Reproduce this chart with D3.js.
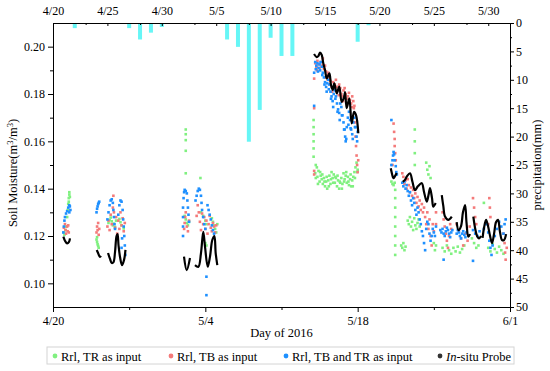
<!DOCTYPE html>
<html>
<head>
<meta charset="utf-8">
<script src="https://cdn.jsdelivr.net/npm/d3@7"></script>
<style>
body { margin: 0; background: #fff; }
</style>
</head>
<body>
<div id="chart"></div>
<script>
var serif = "'Liberation Serif', 'Times New Roman', serif";

// day 0 = 4/20/2016
var bottomTickDays = [0, 14, 28, 42];
var bottomTickLabels = ["4/20", "5/4", "5/18", "6/1"];
var topTickDays = [0, 5, 10, 15, 20, 25, 30, 35, 40];
var topTickLabels = ["4/20", "4/25", "4/30", "5/5", "5/10", "5/15", "5/20", "5/25", "5/30"];

// daily precipitation (mm)
var rainDays = [2, 7, 8, 9, 10, 16, 17, 18, 19, 20, 21, 22, 23, 28, 29, 39];
var rainMM = [0.9, 0.9, 2.9, 1.7, 0.7, 2.9, 4.2, 20.9, 15.3, 2.6, 5.8, 5.8, 0.2, 3.3, 0.4, 0.1];

// in-situ probe (null = gap)
var probe = [
  [0.95,0.1197],[1.10,0.1180],[1.29,0.1169],[1.47,0.1175],[1.56,0.1190], null,
  [4.02,0.1141],[4.14,0.1128],[4.23,0.1118],[4.32,0.1112],[4.41,0.1116], null,
  [5.06,0.1128],[5.24,0.1103],[5.40,0.1086],[5.56,0.1090],[5.70,0.1132],[5.84,0.1200],[5.93,0.1208],[6.02,0.1162],[6.16,0.1111],[6.34,0.1077],[6.53,0.1099],[6.66,0.1141], null,
  [12.04,0.1113],[12.29,0.1056],[12.59,0.1107], null,
  [13.05,0.1077],[13.36,0.1070],[13.60,0.1128],[13.81,0.1218],[13.97,0.1155],[14.22,0.1070],[14.43,0.1113],[14.64,0.1183],[14.83,0.1200],[14.95,0.1128],[15.10,0.1077], null,
  [23.99,0.1969],[24.24,0.1956],[24.38,0.1960],[24.54,0.1975],[24.70,0.1965],[24.84,0.1930],[25.00,0.1901],[25.16,0.1866],[25.40,0.1887],[25.55,0.1838],[25.71,0.1817],[25.85,0.1845],[26.08,0.1803],[26.31,0.1831],[26.53,0.1767],[26.75,0.1787],[26.84,0.1808],[26.99,0.1740],[27.23,0.1782],[27.45,0.1676],[27.67,0.1725],[27.85,0.1711],[28.06,0.1634], null,
  [31.04,0.1486],[31.16,0.1462],[31.28,0.1444],[31.43,0.1453],[31.59,0.1466], null,
  [32.14,0.1429],[32.35,0.1437],[32.54,0.1453],[32.81,0.1465],[33.04,0.1428],[33.27,0.1394],[33.55,0.1411],[33.89,0.1423],[34.10,0.1386],[34.35,0.1345],[34.51,0.1373],[34.65,0.1402],[34.83,0.1361],[34.95,0.1324],[35.17,0.1339], null,
  [35.73,0.1373],[35.87,0.1327],[36.03,0.1282],[36.33,0.1268],[36.65,0.1282], null,
  [37.10,0.1259],[37.27,0.1225],[37.50,0.1242],[37.68,0.1301],[37.87,0.1331],[38.00,0.1259],[38.17,0.1197],[38.33,0.1208], null,
  [38.63,0.1282],[38.79,0.1234],[38.97,0.1200],[39.15,0.1190],[39.34,0.1200], null,
  [39.48,0.1192],[39.61,0.1234],[39.80,0.1268],[39.98,0.1242],[40.17,0.1200],[40.35,0.1170],[40.53,0.1208],[40.72,0.1259],[40.90,0.1268],[41.08,0.1217],[41.27,0.1183],[41.45,0.1183],[41.64,0.1208]
];

// Rrl, TR as input
var trInput = [
  [1.0,0.1215],[1.05,0.1205],[1.15,0.1225],[1.2,0.124],[1.3,0.128],[1.35,0.131],[1.4,0.1335],[1.45,0.136],[1.5,0.1385],[1.5,0.1375],[1.55,0.1365],[1.45,0.1345],
  [4.0,0.1185],[4.05,0.1175],[4.1,0.1165],[4.15,0.1158],[4.2,0.1150],[4.05,0.1195],
  [5.1,0.1255],[5.2,0.1268],[5.3,0.1278],[5.4,0.1262],[5.5,0.1245],[5.6,0.1252],[5.7,0.1238],[5.8,0.1265],[6.1,0.1272],[6.2,0.1258],[6.3,0.1245],[6.5,0.1232],
  [12.2,0.1650],[12.2,0.1630],[12.2,0.1605],[12.2,0.1560],[12.2,0.1465],[12.1,0.1285],[12.2,0.1270],[12.3,0.1255],[12.4,0.1245],[12.5,0.1260],
  [13.55,0.1445],[13.6,0.1300],[13.8,0.1285],[14.0,0.1265],[14.1,0.1250],[14.0,0.1170],[14.1,0.1160],[14.6,0.1275],[14.7,0.1260],[14.8,0.1245],[14.9,0.1230],[15.0,0.1215],[15.1,0.1250],
  [23.95,0.1690],[23.95,0.1660],[23.95,0.1630],[23.95,0.1600],[23.95,0.1570],[23.95,0.1535],
  [24.1,0.1465],[24.15,0.1445],[24.25,0.1490],[24.3,0.1450],[24.4,0.1475],[24.5,0.1430],[24.6,0.1455],[24.7,0.1440],[24.8,0.1420],[24.9,0.1445],[25.0,0.1410],[25.1,0.1430],[25.2,0.1400],[25.3,0.1435],[25.4,0.1455],[25.5,0.1420],[25.6,0.1470],[25.7,0.1445],[25.8,0.1460],[25.9,0.1425],[26.0,0.1445],[26.1,0.1410],[26.2,0.1435],[26.3,0.1400],[26.4,0.1425],[26.5,0.1445],[26.6,0.1420],[26.7,0.1465],[26.8,0.1440],[26.9,0.1455],[27.0,0.1425],[27.1,0.1450],[27.2,0.1415],[27.3,0.1440],[27.4,0.1410],[27.5,0.1435],[27.6,0.1450],[27.7,0.1470],[27.8,0.1490],[27.9,0.1510],[28.0,0.1480],
  [24.15,0.1500],[24.35,0.1420],[24.55,0.1470],[24.75,0.1460],[24.95,0.1430],[25.15,0.1450],[25.35,0.1410],[25.55,0.1440],[25.75,0.1425],[25.95,0.1450],[26.15,0.1455],[26.35,0.1430],[26.55,0.1400],[26.75,0.1430],[26.95,0.1470],[27.15,0.1430],[27.35,0.1460],[27.55,0.1410],[27.75,0.1445],[27.95,0.1470],
  [31.1,0.1430],[31.2,0.1420],[31.3,0.1415],[31.4,0.1425],[31.45,0.1395],[31.45,0.1360],[31.45,0.1320],[31.45,0.1280],[31.45,0.1240],[31.45,0.1200],[31.45,0.1160],[31.45,0.1120],
  [32.0,0.1160],[32.1,0.1150],[32.2,0.1170],[32.3,0.1140],[32.4,0.1155],
  [32.6,0.1265],[32.7,0.1250],[32.8,0.1280],[32.9,0.1240],[33.0,0.1260],[33.1,0.1225],[33.2,0.1275],[33.3,0.1245],[33.4,0.1230],[33.5,0.1255],[33.6,0.1270],[33.7,0.1240],
  [33.25,0.1650],[33.25,0.1600],[33.25,0.1550],[33.25,0.1500],
  [34.3,0.1510],[34.4,0.1480],[34.5,0.1460],[34.6,0.1495],[34.7,0.1445],
  [35.0,0.1170],[35.1,0.1140],[35.2,0.1160],
  [35.8,0.1150],[36.0,0.1135],[36.2,0.1160],[36.4,0.1140],[36.6,0.1125],[36.8,0.1150],[37.0,0.1135],[37.2,0.1155],[37.4,0.1130],[37.6,0.1145],[37.8,0.1160],
  [38.5,0.1190],[38.7,0.1170],[38.9,0.1150],[39.1,0.1160],
  [39.6,0.1340],
  [40.0,0.1150],[40.2,0.1135],[40.4,0.1165],[40.6,0.1145],[40.8,0.1130],[41.0,0.1155],[41.2,0.1140],[41.4,0.1125]
];

// Rrl, TB as input
var tbInput = [
  [1.0,0.1235],[1.1,0.1250],[1.15,0.1225],[1.2,0.1210],[1.3,0.1240],[1.35,0.1220],[1.4,0.1245],[1.45,0.1215],
  [4.0,0.1215],[4.05,0.1240],[4.1,0.1225],[4.15,0.1255],[4.2,0.1205],[4.25,0.1230],
  [5.0,0.1240],[5.1,0.1265],[5.2,0.1225],[5.3,0.1290],[5.4,0.1250],[5.5,0.1320],[5.55,0.1370],[5.6,0.1300],[5.7,0.1235],[5.8,0.1280],[5.9,0.1210],[6.0,0.1265],[6.1,0.1230],[6.2,0.1300],[6.3,0.1245],[6.4,0.1275],[6.5,0.1220],[6.6,0.1255],
  [12.05,0.1230],[12.1,0.1255],[12.15,0.1280],[12.2,0.1300],[12.3,0.1240],[12.4,0.1220],[12.5,0.1265],
  [13.2,0.1285],[13.3,0.1330],[13.4,0.1300],[13.5,0.1260],[13.6,0.1225],[13.7,0.1295],[13.8,0.1250],[13.9,0.1280],[14.0,0.1230],[14.1,0.1265],[14.2,0.1210],[14.3,0.1250],[14.4,0.1285],[14.5,0.1235],[14.6,0.1220],[14.7,0.1255],[14.8,0.1240],[14.9,0.1215],[15.0,0.1245],
  [24.0,0.1865],[24.0,0.1740],[24.0,0.1475],[24.0,0.1460],
  [24.1,0.1930],[24.2,0.1915],[24.3,0.1940],[24.4,0.1925],[24.6,0.1935],[24.8,0.1950],[25.0,0.1920],[25.1,0.1895],[25.2,0.1880],[25.3,0.1890],[25.4,0.1870],[25.5,0.1855],[25.6,0.1830],[25.75,0.1850],[25.9,0.1840],[26.0,0.1860],[26.1,0.1830],[26.2,0.1815],[26.3,0.1840],[26.4,0.1825],[26.5,0.1800],[26.6,0.1790],[26.7,0.1815],[26.8,0.1825],[26.9,0.1800],[27.0,0.1780],[27.1,0.1790],[27.2,0.1805],[27.3,0.1775],[27.4,0.1760],[27.5,0.1790],[27.6,0.1770],[27.7,0.1750],[27.75,0.1680],[27.8,0.1620],[27.85,0.1580],[27.9,0.1540],[27.95,0.1500],[28.0,0.1470],[28.05,0.1520],
  [24.25,0.1900],[24.5,0.1910],[24.7,0.1920],[24.9,0.1905],[25.05,0.1870],[25.25,0.1860],[25.45,0.1840],[25.65,0.1810],[25.85,0.1820],[26.05,0.1830],[26.25,0.1795],[26.45,0.1800],[26.65,0.1770],[26.85,0.1790],[27.05,0.1760],[27.25,0.1770],[27.45,0.1745],[27.65,0.1740],
  [31.2,0.1500],[31.3,0.1675],[31.35,0.1640],[31.4,0.1610],[31.4,0.1580],[31.45,0.1550],[31.5,0.1520],
  [32.1,0.1465],[32.2,0.1450],[32.3,0.1420],[32.4,0.1435],[32.5,0.1400],[32.6,0.1440],[32.7,0.1415],[32.8,0.1385],[32.9,0.1405],[33.0,0.1370],[33.1,0.1395],[33.2,0.1360],[33.3,0.1380],[33.4,0.1340],[33.5,0.1365],[33.6,0.1325],[33.7,0.1350],[33.8,0.1310],[33.9,0.1335],[34.0,0.1300],[34.1,0.1320],[34.2,0.1280],[34.3,0.1250],[34.4,0.1300],[34.5,0.1230],[34.6,0.1270],[34.7,0.1200],[34.8,0.1160],[34.9,0.1250],[35.0,0.1220],[35.2,0.1300],[35.2,0.1250],
  [35.8,0.1300],[35.9,0.1270],[36.0,0.1240],[36.1,0.1210],[36.2,0.1180],[36.3,0.1150],[36.4,0.1200],[36.5,0.1250],[36.6,0.1230],
  [37.1,0.1250],[37.3,0.1220],[37.5,0.1190],[37.7,0.1160],[37.9,0.1210],[38.1,0.1180],[38.3,0.1240],
  [38.6,0.1360],[38.7,0.1320],[38.8,0.1280],[38.9,0.1250],
  [40.0,0.1250],[40.1,0.1360],[40.15,0.1320],[40.2,0.1280],
  [41.4,0.1210],[41.5,0.1170],[41.55,0.1130],[41.6,0.1100],[41.7,0.1150]
];

// Rrl, TB and TR as input
var tbtrInput = [
  [0.95,0.1215],[1.0,0.1240],[1.05,0.1265],[1.1,0.1280],[1.2,0.1295],[1.3,0.1305],[1.4,0.1320],[1.5,0.1330],[1.55,0.1325],[1.6,0.1310],[1.5,0.1300],
  [4.0,0.1300],[4.05,0.1315],[4.1,0.1325],[4.15,0.1335],[4.2,0.1340],[4.25,0.1345],
  [5.0,0.1270],[5.1,0.1300],[5.2,0.1330],[5.3,0.1350],[5.4,0.1355],[5.5,0.1340],[5.55,0.1310],[5.6,0.1280],[5.65,0.1250],[5.7,0.1230],[6.0,0.1290],[6.1,0.1330],[6.2,0.1350],[6.3,0.1345],[6.4,0.1310],[6.45,0.1270],[6.5,0.1240],[6.55,0.1200],[6.6,0.1160],[6.65,0.1120],[6.3,0.1150],[6.35,0.1190],
  [11.95,0.1200],[11.95,0.1240],[11.95,0.1280],[11.95,0.1320],[12.0,0.1360],[12.05,0.1385],[12.1,0.1395],[12.2,0.1390],[12.3,0.1380],[12.35,0.1350],[12.4,0.1320],[12.45,0.1290],[12.5,0.1260],
  [13.1,0.1350],[13.2,0.1370],[13.3,0.1390],[13.4,0.1400],[13.5,0.1395],[13.6,0.1370],[13.65,0.1340],[13.7,0.1310],[13.8,0.1280],[13.9,0.1250],[14.0,0.1230],
  [14.2,0.1330],[14.3,0.1310],[14.4,0.1290],[14.5,0.1270],[14.6,0.1245],[14.7,0.1225],[14.8,0.1210],[14.1,0.1028],[14.1,0.0950],
  [24.0,0.1890],[24.0,0.1750],
  [24.1,0.1935],[24.2,0.1920],[24.3,0.1930],[24.4,0.1910],[24.5,0.1925],[24.6,0.1935],[24.7,0.1915],[24.8,0.1890],[24.9,0.1870],[25.0,0.1850],[25.1,0.1830],[25.2,0.1845],[25.3,0.1860],[25.4,0.1840],[25.5,0.1810],[25.6,0.1790],[25.7,0.1770],[25.8,0.1800],[25.9,0.1815],[26.0,0.1790],[26.1,0.1760],[26.2,0.1735],[26.3,0.1720],[26.4,0.1760],[26.5,0.1745],[26.6,0.1710],[26.7,0.1680],[26.8,0.1650],[26.85,0.1620],[26.9,0.1600],[27.0,0.1660],[27.1,0.1700],[27.2,0.1725],[27.3,0.1690],[27.4,0.1650],[27.5,0.1630],[27.6,0.1680],[27.7,0.1700],[27.8,0.1660],[27.9,0.1620],[28.0,0.1640],
  [24.15,0.1905],[24.35,0.1895],[24.55,0.1900],[24.75,0.1880],[24.95,0.1840],[25.15,0.1810],[25.35,0.1820],[25.55,0.1780],[25.75,0.1745],[25.95,0.1780],[26.15,0.1725],[26.35,0.1690],[26.55,0.1710],[26.75,0.1650],[26.95,0.1610],[27.15,0.1670],[27.35,0.1655],[27.55,0.1610],[27.75,0.1660],[27.95,0.1600],
  [31.1,0.1690],[31.1,0.1500],[31.2,0.1520],[31.25,0.1540],[31.3,0.1555],[31.35,0.1545],[31.4,0.1520],[31.5,0.1495],[31.55,0.1470],[31.6,0.1460],
  [32.1,0.1425],[32.2,0.1410],[32.3,0.1430],[32.4,0.1400],[32.5,0.1415],[32.6,0.1390],[32.7,0.1370],[32.8,0.1385],[32.9,0.1350],[33.0,0.1330],[33.1,0.1360],[33.2,0.1340],[33.3,0.1310],[33.4,0.1290],[33.5,0.1320],[33.6,0.1300],[33.7,0.1270],[33.8,0.1250],[33.9,0.1220],[34.0,0.1200],[34.1,0.1170],[34.2,0.1140],[34.3,0.1230],[34.4,0.1260],[34.5,0.1250],[34.6,0.1210],[34.7,0.1180],[34.8,0.1200],[34.9,0.1230],[35.0,0.1215],[35.1,0.1200],[35.2,0.1240],
  [35.6,0.1225],[35.7,0.1215],[35.8,0.1230],[35.9,0.1210],[36.0,0.1200],[36.1,0.1220],[36.2,0.1235],[36.3,0.1225],[36.4,0.1210],[36.5,0.1195],[36.6,0.1215],[36.7,0.1225],
  [37.1,0.1210],[37.2,0.1225],[37.3,0.1215],[37.4,0.1200],[37.5,0.1190],[37.6,0.1210],[37.7,0.1220],[37.8,0.1205],[37.9,0.1195],[38.0,0.1215],
  [38.6,0.1225],[38.8,0.1210],[39.0,0.1200],[39.2,0.1220],
  [39.6,0.1230],[39.8,0.1250],[40.0,0.1215],[40.1,0.1180],[40.2,0.1150],[40.3,0.1120],[40.4,0.1160],[40.6,0.1200],[40.8,0.1230],[41.0,0.1260],[41.2,0.1240],[41.4,0.1210],[41.5,0.1250],[41.6,0.1270],
  [35.9,0.1100],[38.6,0.1095]
];

var seriesNames = ["Rrl, TR as input", "Rrl, TB as input", "Rrl, TB and TR as input", "In-situ Probe"];
var seriesColors = ["#80f080", "#f47a7a", "#1e90ff", "#000000"];

var margin = { top: 23, right: 40, bottom: 64, left: 53 },
    width = 550 - margin.left - margin.right,
    height = 371 - margin.top - margin.bottom;

var svg = d3.select("#chart")
    .append("svg")
    .attr("width", 550)
    .attr("height", 371)
    .style("font-family", serif);

var g = svg.append("g")
    .attr("transform", "translate(" + margin.left + "," + margin.top + ")");

var x = d3.scaleLinear().domain([0, 42]).range([0, width]);
var y = d3.scaleLinear().domain([0.09, 0.21]).range([height, 0]);
var yRain = d3.scaleLinear().domain([0, 50]).range([0, height]);

g.append("clipPath").attr("id", "clip")
    .append("rect").attr("width", width).attr("height", height);

var plot = g.append("g").attr("clip-path", "url(#clip)");

// precipitation bars hanging from the top
plot.selectAll(".rain")
    .data(rainDays)
    .enter()
    .append("rect")
    .attr("x", function (d) { return x(d) - 2; })
    .attr("y", 0)
    .attr("width", 4)
    .attr("height", function (d, i) { return yRain(rainMM[i]); })
    .attr("fill", "#66f6f6");

// scatter series, small square dots
[trInput, tbInput, tbtrInput].forEach(function (data, k) {
    plot.append("g")
        .selectAll("rect")
        .data(data)
        .enter()
        .append("rect")
        .attr("x", function (d) { return x(d[0]) - 1.3; })
        .attr("y", function (d) { return y(d[1]) - 1.3; })
        .attr("width", 2.6)
        .attr("height", 2.6)
        .attr("fill", seriesColors[k]);
});

// in-situ probe line
plot.append("path")
    .datum(probe)
    .attr("d", d3.line()
        .defined(function (d) { return d; })
        .curve(d3.curveCatmullRom)
        .x(function (d) { return x(d[0]); })
        .y(function (d) { return y(d[1]); }))
    .attr("fill", "none")
    .attr("stroke", "#000")
    .attr("stroke-width", 2.2);

// axes
function styleAxis(sel) {
    sel.attr("font-family", null).attr("font-size", null);
    sel.selectAll("path, line").attr("stroke", "#000");
    sel.selectAll("text")
        .style("font-family", serif)
        .style("font-size", "12px")
        .attr("fill", "#000");
}

g.append("g")
    .attr("transform", "translate(0," + height + ")")
    .call(d3.axisBottom(x).tickValues(bottomTickDays)
        .tickFormat(function (d, i) { return bottomTickLabels[i]; })
        .tickSize(5).tickPadding(4))
    .call(styleAxis);
g.append("g")
    .attr("transform", "translate(0," + height + ")")
    .call(d3.axisBottom(x).tickValues([7, 21, 35]).tickFormat("").tickSize(3))
    .call(styleAxis)
    .select(".domain").remove();

g.append("g")
    .call(d3.axisTop(x).tickValues(topTickDays)
        .tickFormat(function (d, i) { return topTickLabels[i]; })
        .tickSizeInner(-3).tickSizeOuter(0).tickPadding(8))
    .call(styleAxis);
g.append("g")
    .call(d3.axisTop(x).tickValues([3, 8, 13, 18, 23, 28, 33, 38]).tickFormat("").tickSizeInner(-2).tickSizeOuter(0))
    .call(styleAxis)
    .select(".domain").remove();

g.append("g")
    .call(d3.axisLeft(y).tickValues([0.10, 0.12, 0.14, 0.16, 0.18, 0.20])
        .tickFormat(d3.format(".2f")).tickSizeInner(5).tickSizeOuter(0).tickPadding(3))
    .call(styleAxis);
g.append("g")
    .call(d3.axisLeft(y).tickValues([0.11, 0.13, 0.15, 0.17, 0.19]).tickFormat("").tickSizeInner(3).tickSizeOuter(0))
    .call(styleAxis)
    .select(".domain").remove();

g.append("g")
    .attr("transform", "translate(" + width + ",0)")
    .call(d3.axisRight(yRain).tickValues(d3.range(0, 51, 5))
        .tickSizeInner(4).tickSizeOuter(0).tickPadding(2))
    .call(styleAxis);
g.append("g")
    .attr("transform", "translate(" + width + ",0)")
    .call(d3.axisRight(yRain).tickValues(d3.range(2.5, 50, 5)).tickFormat("").tickSizeInner(2).tickSizeOuter(0))
    .call(styleAxis)
    .select(".domain").remove();

// axis titles
svg.append("text")
    .attr("transform", "translate(17," + (margin.top + height / 2 + 8) + ") rotate(-90)")
    .attr("text-anchor", "middle")
    .style("font-family", serif)
    .style("font-size", "12.5px")
    .html("Soil Moisture(m<tspan dy='-4' font-size='8.5px'>3</tspan><tspan dy='4'>/m</tspan><tspan dy='-4' font-size='8.5px'>3</tspan><tspan dy='4'>)</tspan>");

svg.append("text")
    .attr("transform", "translate(541," + (margin.top + height / 2) + ") rotate(-90)")
    .attr("text-anchor", "middle")
    .style("font-family", serif)
    .style("font-size", "12.5px")
    .text("precipitation(mm)");

svg.append("text")
    .attr("x", margin.left + width / 2)
    .attr("y", 337)
    .attr("text-anchor", "middle")
    .style("font-family", serif)
    .style("font-size", "12.5px")
    .text("Day of 2016");

// legend
var legend = svg.append("g");
legend.append("rect")
    .attr("x", 47).attr("y", 347)
    .attr("width", 467).attr("height", 17)
    .attr("fill", "none")
    .attr("stroke", "#d4d4d4");

var legendX = [55, 171, 286, 440];
var legendItems = legend.selectAll(".item")
    .data(seriesNames)
    .enter()
    .append("g")
    .attr("transform", function (d, i) { return "translate(" + legendX[i] + ",356)"; });

legendItems.append("circle")
    .attr("r", 2.4)
    .attr("fill", function (d, i) { return i == 3 ? "#333" : seriesColors[i]; });

legendItems.append("text")
    .attr("x", 6)
    .attr("y", 4.5)
    .style("font-family", serif)
    .style("font-size", "12.5px")
    .each(function (d) {
        var t = d3.select(this);
        if (d.indexOf("In-situ") == 0) {
            t.append("tspan").style("font-style", "italic").text("In");
            t.append("tspan").text(d.slice(2));
        } else {
            t.text(d);
        }
    });
</script>
</body>
</html>
